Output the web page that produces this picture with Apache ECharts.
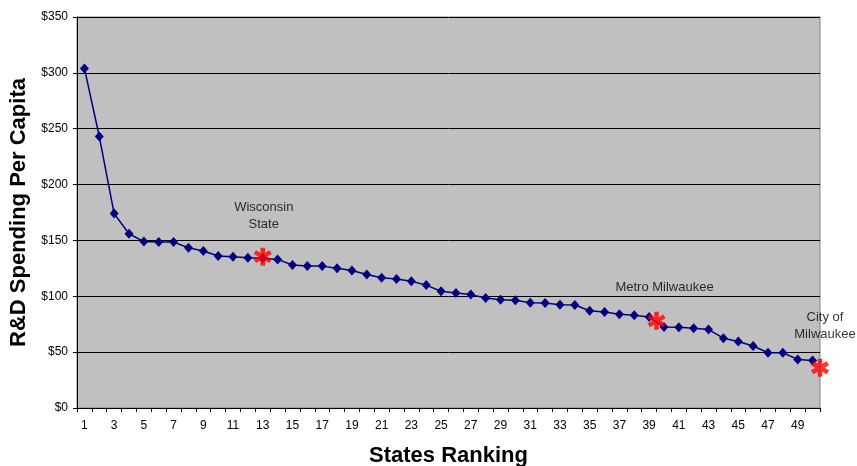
<!DOCTYPE html>
<html>
<head>
<meta charset="utf-8">
<script src="https://cdn.jsdelivr.net/npm/echarts@6/dist/echarts.min.js"></script>
<style>
  html, body { margin: 0; padding: 0; background: #fff; }
  #chart { width: 857px; height: 466px; }
</style>
</head>
<body>
<div id="chart"></div>
<script>
// State ranking (1 = highest R&D spending per capita)
const ranks = ['1','2','3','4','5','6','7','8','9','10',
  '11','12','13','14','15','16','17','18','19','20',
  '21','22','23','24','25','26','27','28','29','30',
  '31','32','33','34','35','36','37','38','39','40',
  '41','42','43','44','45','46','47','48','49','50'];

// R&D spending per capita, dollars, by state rank
const spending = [304, 243, 174, 156, 149, 148.5, 148.5, 143.5, 140.5, 136,
  135.5, 134.5, 134, 133, 128, 127, 127, 125, 123, 119.5,
  116.5, 115.5, 113.5, 110, 104.5, 103, 101.5, 98.5, 97, 96.5,
  94.3, 94, 92.5, 92.2, 87, 86, 84, 83, 81.5, 72.5,
  72.3, 71.4, 70.2, 62.5, 59.5, 55.5, 49.5, 49.5, 43.5, 42.5];

// Highlighted places: position on the ranking scale and their spending
const placeNames = ['Wisconsin\nState', 'Metro Milwaukee', 'City of\nMilwaukee'];
const placeRank = [13, 39.5, 50.5];
const placeSpending = [135.5, 78, 36];

// Y axis ticks
const yTicks = [0, 50, 100, 150, 200, 250, 300, 350];

// label offsets for the highlighted places (pixels)
const labelOffsets = [[1, -41], [8, -33], [5, -42]];

const FONT = '"Liberation Sans", Arial, sans-serif';

// asterisk marker built from three bars
const asterisk = 'path://M-0.25 -1 L0.25 -1 L0.25 1 L-0.25 1 Z ' +
  'M-0.991 -0.283 L-0.741 -0.717 L0.991 0.283 L0.741 0.717 Z ' +
  'M-0.741 0.717 L-0.991 0.283 L0.741 -0.717 L0.991 -0.283 Z';

const chart = echarts.init(document.getElementById('chart'), null, { renderer: 'canvas' });

chart.setOption({
  animation: false,
  backgroundColor: '#ffffff',
  grid: {
    left: 77, right: 37, top: 17, bottom: 58,
    containLabel: false,
    outerBoundsMode: 'none',
    show: true,
    backgroundColor: '#c0c0c0',
    borderColor: '#808080',
    borderWidth: 1
  },
  xAxis: [{
    type: 'category',
    data: ranks,
    boundaryGap: true,
    name: 'States Ranking',
    nameLocation: 'middle',
    nameGap: 37,
    nameTextStyle: { fontFamily: FONT, fontSize: 22, fontWeight: 'bold', color: '#000' },
    axisLine: { lineStyle: { color: '#000', width: 1 } },
    axisTick: { show: true, interval: 0, length: 4, lineStyle: { color: '#000' } },
    axisLabel: { interval: 1, margin: 12, fontFamily: FONT, fontSize: 12, color: '#000' },
    splitLine: { show: false }
  }, {
    type: 'value',
    min: 0.5,
    max: 50.5,
    show: false
  }],
  yAxis: {
    type: 'value',
    min: yTicks[0],
    max: yTicks[yTicks.length - 1],
    interval: 50,
    name: 'R&D Spending Per Capita',
    nameLocation: 'middle',
    nameGap: 41,
    nameRotate: 90,
    nameTextStyle: { fontFamily: FONT, fontSize: 22, fontWeight: 'bold', color: '#000' },
    axisLine: { show: true, lineStyle: { color: '#000', width: 1 } },
    axisTick: { show: true, length: 4, lineStyle: { color: '#000' } },
    axisLabel: {
      margin: 9, fontFamily: FONT, fontSize: 12, color: '#000',
      formatter: v => '$' + v
    },
    splitLine: { show: true, lineStyle: { color: '#000', width: 1 } }
  },
  series: [{
    type: 'line',
    data: spending,
    xAxisIndex: 0,
    symbol: 'diamond',
    symbolSize: [9, 10],
    showSymbol: true,
    showAllSymbol: true,
    lineStyle: { color: '#000080', width: 1.5 },
    itemStyle: { color: '#000080' },
    z: 2
  }, {
    type: 'scatter',
    xAxisIndex: 1,
    clip: false,
    symbol: asterisk,
    symbolSize: [18, 18],
    itemStyle: { color: '#ff0000' },
    z: 3,
    data: placeNames.map((name, i) => ({
      value: [placeRank[i], placeSpending[i]],
      name: name,
      label: {
        show: true,
        position: 'inside',
        offset: labelOffsets[i],
        formatter: '{b}',
        fontFamily: FONT,
        fontSize: 13,
        lineHeight: 17,
        color: '#000',
        align: 'center'
      }
    }))
  }]
});
</script>
</body>
</html>
